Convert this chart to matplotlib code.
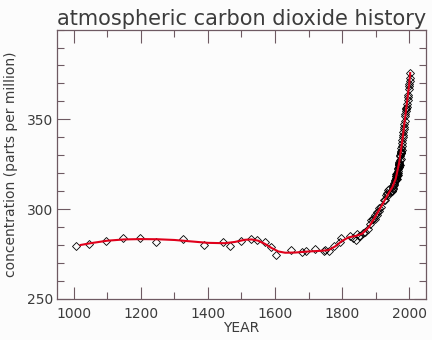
import numpy as np
import matplotlib
matplotlib.use("Agg")
import matplotlib.pyplot as plt
from matplotlib.ticker import MultipleLocator

years = [1006, 1046, 1096, 1146, 1196, 1246, 1327, 1387, 1446, 1465,
         1499, 1527, 1547, 1570, 1589, 1604, 1647, 1679, 1692, 1720,
         1747, 1749, 1760, 1777, 1794, 1796, 1825, 1832, 1840, 1845,
         1850, 1854, 1861, 1869, 1877, 1882, 1886, 1891, 1892, 1898,
         1899, 1905, 1905, 1909, 1910, 1915, 1925, 1929, 1932, 1934,
         1936, 1938, 1939, 1944, 1948, 1948, 1953, 1953, 1953, 1954,
         1954, 1954, 1959, 1962, 1962, 1962, 1963, 1965, 1965, 1966,
         1968, 1969, 1969, 1970, 1970, 1971, 1973, 1975, 1976, 1976,
         1977, 1978]
co2 = [279.4, 280.3, 282.4, 283.8, 283.8, 281.7, 283.4, 280.0, 281.7, 279.6,
       282.4, 283.2, 282.8, 281.9, 278.7, 274.3, 277.2, 275.9, 276.5, 277.5,
       276.9, 277.2, 276.7, 279.5, 281.6, 283.7, 285.1, 284.0, 283.0, 286.1,
       285.2, 284.9, 286.6, 287.4, 288.8, 291.9, 293.7, 294.7, 294.6, 294.7,
       296.5, 296.9, 298.5, 299.2, 300.7, 301.3, 305.0, 305.2, 307.8, 309.2,
       307.9, 310.5, 311.4, 309.7, 309.9, 310.3, 311.9, 311.0, 312.7, 313.6,
       314.1, 314.7, 315.7, 318.7, 317.0, 319.4, 317.0, 318.2, 319.5, 318.8,
       320.0, 323.7, 323.2, 325.4, 324.7, 325.2, 324.7, 328.1, 331.2, 332.0,
       331.2, 332.9]

ml_years = list(range(1959, 2004))
ml_co2 = [316.0, 316.9, 317.6, 318.5, 319.0, 319.6, 320.0, 321.4, 322.2, 323.0,
          324.6, 325.7, 326.3, 327.5, 329.7, 330.2, 331.1, 332.1, 333.8, 335.4,
          336.8, 338.7, 340.1, 341.4, 343.0, 344.6, 346.0, 347.4, 349.2, 351.6,
          353.1, 354.4, 355.6, 356.4, 357.1, 358.8, 360.8, 362.6, 363.7, 366.7,
          368.4, 369.6, 371.1, 373.2, 375.8]

# smoothed fit curve (red)
fit_years = [1020, 1050, 1100, 1150, 1200, 1250, 1300, 1350, 1400, 1450,
             1480, 1510, 1530, 1550, 1570, 1590, 1610, 1630, 1660, 1700,
             1740, 1760, 1780, 1800, 1820, 1840, 1860, 1880, 1900, 1920,
             1940, 1950, 1960, 1970, 1980, 1990, 2000, 2003]
fit_co2 = [280.0, 281.0, 282.4, 283.1, 283.3, 283.2, 282.8, 282.0, 281.2, 281.0,
           281.7, 282.9, 283.1, 282.4, 280.6, 278.3, 276.4, 275.7, 275.8, 276.4,
           276.8, 277.2, 279.3, 282.3, 284.3, 285.0, 286.3, 290.0, 296.2, 302.6,
           309.3, 312.3, 317.0, 325.8, 338.7, 354.2, 369.6, 375.8]

fg = '#6e5a62'
txt = '#3c3c3c'

fig = plt.figure(figsize=(4.32, 3.4), dpi=100, facecolor='#fcfcfc')
ax = fig.add_axes([0.132, 0.121, 0.854, 0.792], facecolor='#fcfcfc')

ax.plot(fit_years, fit_co2, color='#e0001b', lw=1.5, zorder=3)
ax.plot(years + ml_years, co2 + ml_co2, ls='none', marker='D', ms=4.2,
        mfc='none', mec='black', mew=0.6, zorder=2)

ax.set_xlim(950, 2050)
ax.set_ylim(250, 400)
ax.xaxis.set_major_locator(MultipleLocator(200))
ax.xaxis.set_minor_locator(MultipleLocator(100))
ax.yaxis.set_major_locator(MultipleLocator(50))
ax.yaxis.set_minor_locator(MultipleLocator(10))
ax.set_yticks([250, 300, 350])
ax.tick_params(which='both', direction='in', top=True, right=True,
               color=fg, width=0.8, labelsize=10, labelcolor=txt)
ax.tick_params(which='major', length=9)
ax.tick_params(which='minor', length=5)
ax.tick_params(axis='x', pad=6)
ax.tick_params(axis='y', pad=3)
for s in ax.spines.values():
    s.set_color(fg)
    s.set_linewidth(0.9)

ax.set_xlabel('YEAR', fontsize=10, color=txt, labelpad=0)
ax.set_ylabel('concentration (parts per million)', fontsize=10, color=txt,
              labelpad=6)
ax.set_title('atmospheric carbon dioxide history', fontsize=15, color=txt,
             pad=3)

fig.savefig('out.png', dpi=100, facecolor=fig.get_facecolor())
